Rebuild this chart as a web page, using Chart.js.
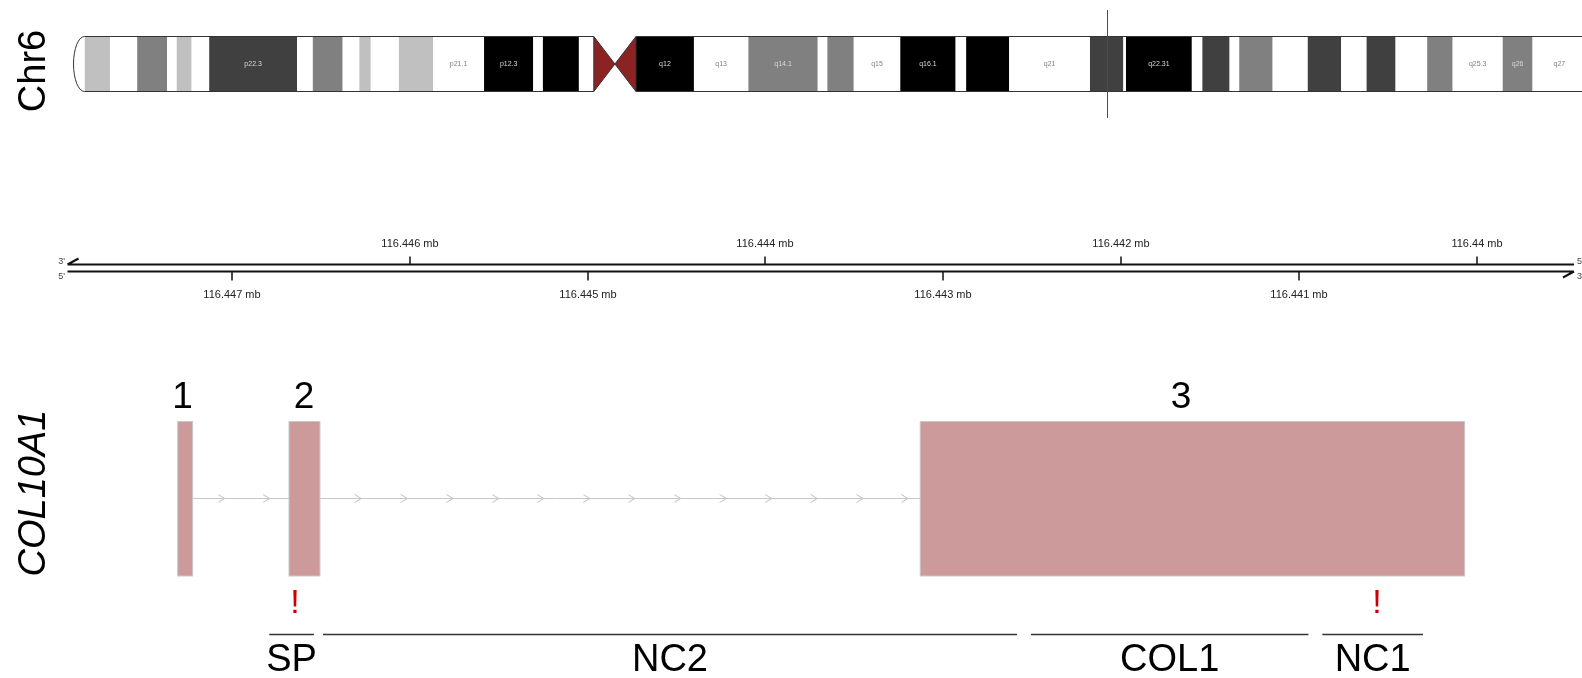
<!DOCTYPE html>
<html>
<head>
<meta charset="utf-8">
<script src="https://cdn.jsdelivr.net/npm/chart.js@4.4.1/dist/chart.umd.min.js"></script>
<style>
  html, body { margin: 0; padding: 0; background: #fff; }
  canvas { display: block; }
</style>
</head>
<body>
<canvas id="gviz" width="1582" height="678"></canvas>
<script>
'use strict'

// chr6 ideogram, band edges in Mb
const bandEdges = [0, 2.9, 6.0, 9.4, 10.5, 12.2, 14.2, 24.2, 26.0, 29.4, 31.3, 32.6, 35.8, 39.7, 45.5, 51.1,
    52.2, 56.3, 58.0, 60.4, 62.8, 69.4, 75.6, 83.5, 84.6, 87.6, 92.9, 99.2, 100.4, 105.3, 114.5, 118.3,
    118.6, 126.1, 127.3, 130.4, 131.5, 135.3, 139.3, 143.1, 146.0, 149.3, 152.9, 155.8, 161.5, 164.9, 171.0]
const bandStains = ['gpos25', 'gneg', 'gpos50', 'gneg', 'gpos25', 'gneg', 'gpos75', 'gneg', 'gpos50', 'gneg',
    'gpos25', 'gneg', 'gpos25', 'gneg', 'gpos100', 'gneg', 'gpos100', 'gneg', 'acen', 'acen',
    'gpos100', 'gneg', 'gpos50', 'gneg', 'gpos50', 'gneg', 'gpos100', 'gneg', 'gpos100', 'gneg',
    'gpos75', 'gneg', 'gpos100', 'gneg', 'gpos75', 'gneg', 'gpos50', 'gneg', 'gpos75', 'gneg',
    'gpos75', 'gneg', 'gpos50', 'gneg', 'gpos50', 'gneg']
const bandNames = ['', '', '', '', '', '', 'p22.3', '', '', '', '', '', '', 'p21.1', 'p12.3', '', '', '', '', '',
    'q12', 'q13', 'q14.1', '', '', 'q15', 'q16.1', '', '', 'q21', '', '', 'q22.31', '', '', '', '', '', '', '',
    '', '', '', 'q25.3', 'q26', 'q27']
const highlightMb = 116.44

// genome axis (bp)
const tickValues = [116447000, 116446000, 116445000, 116444000, 116443000, 116442000, 116441000, 116440000]
const tickLabels = ['116.447 mb', '116.446 mb', '116.445 mb', '116.444 mb', '116.443 mb', '116.442 mb', '116.441 mb', '116.44 mb']

// COL10A1 gene model (bp)
const exonLow = [116447221, 116446505, 116440069]
const exonHigh = [116447305, 116446679, 116443130]
const exonLabels = ['1', '2', '3']
const exonLabelPos = [116447277, 116446595, 116441664]
const chevronPos = [116447058, 116446805, 116446290, 116446031, 116445774, 116445517, 116445264, 116445005,
    116444752, 116444494, 116444237, 116443982, 116443726, 116443469, 116443216]
const flagPos = [116446645, 116440562]
const domainNames = ['SP', 'NC2', 'COL1', 'NC1']
const domainLow = [116446539, 116442586, 116440947, 116440303]
const domainHigh = [116446790, 116446488, 116442507, 116440869]

const stainColors = {
    gneg: '#FFFFFF', gpos25: '#C0C0C0', gpos50: '#808080', gpos75: '#404040', gpos100: '#000000', acen: '#8B2323'
}
const FONT = '"Liberation Sans", Arial, Helvetica, sans-serif'
const INTRON_Y = 498.5

// little ">" used for the intron direction
const chevron = document.createElement('canvas')
chevron.width = 8
chevron.height = 9
const cc = chevron.getContext('2d')
cc.strokeStyle = '#BDBDBD'
cc.lineWidth = 1
cc.beginPath()
cc.moveTo(0.5, 0.5)
cc.lineTo(7, 4.5)
cc.lineTo(0.5, 8.5)
cc.stroke()

const tracksPlugin = {
    id: 'tracks',
    beforeDatasetsDraw: function(chart) {
        const ctx = chart.ctx
        const xs = chart.scales.x
        const xi = chart.scales.xi
        ctx.save()

        // --- ideogram ---
        const top = 36.5, bot = 91.5, mid = 64
        const outline = '#333333'
        let cenStart = null, cenEnd = null
        for (let i = 0; i < bandStains.length; i++) {
            const x0 = xi.getPixelForValue(bandEdges[i])
            const x1 = xi.getPixelForValue(bandEdges[i + 1])
            ctx.fillStyle = stainColors[bandStains[i]]
            if (bandStains[i] === 'acen') {
                ctx.beginPath()
                if (cenStart === null) {
                    cenStart = x0
                    ctx.moveTo(x0, top); ctx.lineTo(x0, bot); ctx.lineTo(x1, mid)
                } else {
                    cenEnd = x1
                    ctx.moveTo(x1, top); ctx.lineTo(x1, bot); ctx.lineTo(x0, mid)
                }
                ctx.closePath()
                ctx.fill()
            } else {
                ctx.fillRect(x0, top, x1 - x0, bot - top)
            }
        }
        const cenMid = (cenStart + cenEnd) / 2
        const chrStart = xi.getPixelForValue(bandEdges[0])
        const chrEnd = xi.getPixelForValue(bandEdges[bandEdges.length - 1])

        // rounded left tip
        ctx.beginPath()
        ctx.ellipse(chrStart, mid, 11, (bot - top) / 2, 0, Math.PI / 2, Math.PI * 3 / 2)
        ctx.fillStyle = '#FFFFFF'
        ctx.fill()
        ctx.strokeStyle = outline
        ctx.lineWidth = 1
        ctx.stroke()

        ctx.beginPath()
        ctx.moveTo(chrStart, top); ctx.lineTo(cenStart, top)
        ctx.lineTo(cenMid, mid); ctx.lineTo(cenEnd, top); ctx.lineTo(chrEnd, top)
        ctx.moveTo(chrStart, bot); ctx.lineTo(cenStart, bot)
        ctx.lineTo(cenMid, mid); ctx.lineTo(cenEnd, bot); ctx.lineTo(chrEnd, bot)
        ctx.moveTo(cenStart, top); ctx.lineTo(cenStart, bot)
        ctx.moveTo(cenEnd, top); ctx.lineTo(cenEnd, bot)
        ctx.stroke()

        // band names
        ctx.font = '7px ' + FONT
        ctx.textAlign = 'center'
        ctx.textBaseline = 'middle'
        for (let i = 0; i < bandNames.length; i++) {
            if (!bandNames[i]) continue
            const x = (xi.getPixelForValue(bandEdges[i]) + xi.getPixelForValue(bandEdges[i + 1])) / 2
            const dark = ['gpos50', 'gpos75', 'gpos100'].includes(bandStains[i])
            ctx.fillStyle = dark ? '#D8D8D8' : '#808080'
            ctx.fillText(bandNames[i], x, mid)
        }

        // current position
        const hx = Math.round(xi.getPixelForValue(highlightMb)) + 0.5
        ctx.strokeStyle = '#FF0000'
        ctx.lineWidth = 1
        ctx.beginPath()
        ctx.moveTo(hx, 10); ctx.lineTo(hx, 118)
        ctx.stroke()

        // --- genome axis ---
        const axL = 67.5, axR = 1574, axTop = 264.5, axBot = 271.5
        ctx.strokeStyle = '#111111'
        ctx.lineWidth = 2
        ctx.beginPath()
        ctx.moveTo(axL, axTop); ctx.lineTo(axR, axTop)
        ctx.moveTo(axL, axBot); ctx.lineTo(axR, axBot)
        ctx.moveTo(axL, axTop); ctx.lineTo(axL + 11, axTop - 6)
        ctx.moveTo(axR, axBot); ctx.lineTo(axR - 11, axBot + 6)
        ctx.stroke()

        ctx.font = '11px ' + FONT
        ctx.fillStyle = '#222222'
        ctx.lineWidth = 1.5
        tickValues.forEach(function(v, i) {
            const x = Math.round(xs.getPixelForValue(v))
            ctx.beginPath()
            if (i % 2 === 0) {
                ctx.moveTo(x, axBot); ctx.lineTo(x, axBot + 9)
                ctx.stroke()
                ctx.fillText(tickLabels[i], x, 295)
            } else {
                ctx.moveTo(x, axTop); ctx.lineTo(x, axTop - 8)
                ctx.stroke()
                ctx.fillText(tickLabels[i], x, 243.5)
            }
        })

        ctx.font = '9px ' + FONT
        ctx.fillStyle = '#444444'
        ctx.textAlign = 'right'
        ctx.fillText("3'", 65, 262)
        ctx.fillText("5'", 65, 277)
        ctx.textAlign = 'left'
        ctx.fillText("5'", 1577, 262)
        ctx.fillText("3'", 1577, 277)

        // --- protein domains ---
        ctx.strokeStyle = '#333333'
        ctx.lineWidth = 1.5
        ctx.font = '38px ' + FONT
        ctx.fillStyle = '#000000'
        ctx.textAlign = 'center'
        ctx.textBaseline = 'alphabetic'
        domainNames.forEach(function(name, i) {
            const x0 = xs.getPixelForValue(domainHigh[i])
            const x1 = xs.getPixelForValue(domainLow[i])
            ctx.beginPath()
            ctx.moveTo(x0, 634.5); ctx.lineTo(x1, 634.5)
            ctx.stroke()
            ctx.fillText(name, (x0 + x1) / 2, 671)
        })

        // --- track titles ---
        ctx.fillStyle = '#000000'
        ctx.save()
        ctx.translate(45, 71)
        ctx.rotate(-Math.PI / 2)
        ctx.font = '38px ' + FONT
        ctx.fillText('Chr6', 0, 0)
        ctx.restore()
        ctx.save()
        ctx.translate(45, 493)
        ctx.rotate(-Math.PI / 2)
        ctx.font = 'italic 38px ' + FONT
        ctx.fillText('COL10A1', 0, 0)
        ctx.restore()

        ctx.restore()
    },
    afterDatasetsDraw: function(chart) {
        const ctx = chart.ctx
        const xs = chart.scales.x
        ctx.save()

        // exons
        ctx.fillStyle = '#CC9A9B'
        ctx.strokeStyle = '#C8C8C8'
        ctx.lineWidth = 1
        for (let i = 0; i < exonLow.length; i++) {
            const x0 = xs.getPixelForValue(exonHigh[i])
            const x1 = xs.getPixelForValue(exonLow[i])
            ctx.fillRect(x0, 421.5, x1 - x0, 154.5)
            ctx.strokeRect(x0, 421.5, x1 - x0, 154.5)
        }

        ctx.font = '37px ' + FONT
        ctx.fillStyle = '#000000'
        ctx.textAlign = 'center'
        ctx.textBaseline = 'alphabetic'
        exonLabels.forEach(function(label, i) {
            ctx.fillText(label, xs.getPixelForValue(exonLabelPos[i]), 408)
        })

        // variant flags
        ctx.font = '34px ' + FONT
        ctx.fillStyle = '#CC0000'
        flagPos.forEach(function(p) {
            ctx.fillText('!', xs.getPixelForValue(p), 613)
        })

        ctx.restore()
    }
}

const canvas = document.getElementById('gviz')

new Chart(canvas, {
    type: 'scatter',
    data: {
        datasets: [
            {
                label: 'intron',
                data: [{x: exonLow[0], y: INTRON_Y}, {x: exonHigh[2], y: INTRON_Y}],
                showLine: true,
                borderColor: '#C8C8C8',
                borderWidth: 1,
                pointRadius: 0
            },
            {
                label: 'direction',
                data: chevronPos.map(p => ({x: p, y: INTRON_Y})),
                pointStyle: chevron,
                pointRadius: 4
            }
        ]
    },
    options: {
        responsive: false,
        animation: false,
        devicePixelRatio: 1,
        layout: { padding: 0, autoPadding: false },
        events: [],
        plugins: {
            legend: { display: false },
            tooltip: { enabled: false }
        },
        scales: {
            x: { type: 'linear', min: 116439409, max: 116448304, reverse: true, display: false },
            xi: { type: 'linear', axis: 'x', min: -9.623, max: 170.53, display: false },
            y: { type: 'linear', min: 0, max: 678, reverse: true, display: false }
        }
    },
    plugins: [tracksPlugin]
})
</script>
</body>
</html>
